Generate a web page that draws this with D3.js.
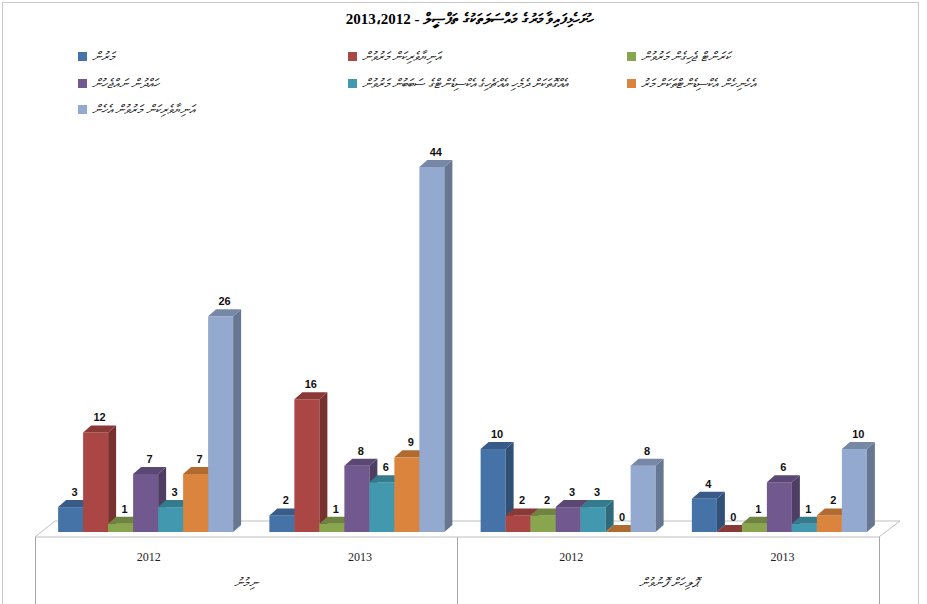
<!DOCTYPE html>
<html>
<head>
<meta charset="utf-8">
<script src="https://cdn.jsdelivr.net/npm/d3@7.9.0/dist/d3.min.js"></script>
<style>
  body { margin: 0; background: #fff; }
  svg { display: block; }
</style>
</head>
<body>
<svg id="chart" width="927" height="604"></svg>
<script>
// chart data
const titleText = 'ހުށަހެޅިފައިވާ މަރުގެ މައްސަލަތަކުގެ ތަފްޞީލް - 2013،2012';
const years = ['2012', '2013', '2012', '2013'];
const groups = ['ނިމުނު', 'ޕޮލިހަށް ފޮނުވުން'];
const seriesNames = [
  'މަރުން',
  'އަނިޔާވެރިކަން މަރުވުން',
  'ކަރަންޓް ޖެހިގެން މަރުވުން',
  'ހައްދުން ނައްޖެހުން',
  'އެއްގޮތަކަށް ދެމެހި އެއްޗެހިގެ އެކްސިޑެންޓްގެ ސަބަބުން މަރުވުން',
  'އެހެނިހެން އެކްސިޑެންޓްތަކަށް މަރު',
  'އަނިޔާވެރިކަން މަރުވުން އެހެން'
];
const blueVals   = [3, 2, 10, 4];
const redVals    = [12, 16, 2, 0];
const greenVals  = [1, 1, 2, 1];
const purpleVals = [7, 8, 3, 6];
const tealVals   = [3, 6, 3, 1];
const orangeVals = [7, 9, 0, 2];
const lightVals  = [26, 44, 8, 10];
const seriesValues = [blueVals, redVals, greenVals, purpleVals, tealVals, orangeVals, lightVals];
const colors = ['#4572A7', '#AA4643', '#89A54E', '#71588F', '#4198AF', '#DB843D', '#93A9CF'];

const svg = d3.select('#chart');

// outer border
svg.append('rect')
  .attr('x', 2.5).attr('y', 2.5).attr('width', 916).attr('height', 610)
  .attr('fill', 'none').attr('stroke', '#c8c8c8');

// title
svg.append('text')
  .attr('x', 470).attr('y', 24)
  .attr('text-anchor', 'middle')
  .attr('direction', 'rtl')
  .style('font-family', "'Liberation Serif', 'DejaVu Serif', serif")
  .attr('font-weight', 'bold')
  .attr('font-size', 15)
  .text(titleText);

// legend, 3 columns
const legendCols = [78, 348, 627];
const legendRows = [57, 84, 110];
seriesNames.forEach((name, i) => {
  const g = svg.append('g')
    .attr('transform', `translate(${legendCols[i % 3]},${legendRows[Math.floor(i / 3)]})`);
  g.append('rect')
    .attr('x', 0).attr('y', -5).attr('width', 9).attr('height', 9)
    .attr('fill', colors[i]);
  g.append('text')
    .attr('x', 14).attr('y', 4)
    .attr('font-size', 13)
    .attr('font-style', 'italic')
    .attr('fill', '#222')
    .text(name);
});

// geometry
const frontY = 537, backY = 521, baseY = 532;
const dx = 8, dy = 7;
const xFront = d3.scaleBand().domain(d3.range(years.length)).range([35, 879]);
const xGroup = d3.scaleBand().domain(d3.range(years.length)).range([40, 885]);
const xBar = d3.scaleBand().domain(d3.range(seriesNames.length))
  .range([0, 175]);
const y = d3.scaleLinear().domain([0, 44]).range([baseY, 167]);

// floor
svg.append('path')
  .attr('d', `M${xFront.range()[0]},${frontY} L${xFront.range()[0] + 20},${backY} L${xFront.range()[1] + 21},${backY} L${xFront.range()[1]},${frontY} Z`)
  .attr('fill', '#fff').attr('stroke', '#bfbfbf');

// bars
const barsG = svg.append('g');
years.forEach((yr, gi) => {
  const gx = xGroup(gi) + (xGroup.bandwidth() - 175) / 2;
  seriesValues.forEach((vals, si) => {
    const v = vals[gi];
    const x0 = gx + xBar(si), w = xBar.bandwidth();
    const yt = y(v);
    const c = d3.color(colors[si]);
    // front
    barsG.append('rect')
      .attr('x', x0).attr('y', yt).attr('width', w).attr('height', baseY - yt)
      .attr('fill', c.formatHex());
    // side
    barsG.append('path')
      .attr('d', `M${x0 + w},${yt} L${x0 + w + dx},${yt - dy} L${x0 + w + dx},${baseY - dy} L${x0 + w},${baseY} Z`)
      .attr('fill', c.darker(1.0).formatHex());
    // top
    barsG.append('path')
      .attr('d', `M${x0},${yt} L${x0 + dx},${yt - dy} L${x0 + w + dx},${yt - dy} L${x0 + w},${yt} Z`)
      .attr('fill', c.darker(0.6).formatHex());
    // value label
    barsG.append('text')
      .attr('x', x0 + w / 2 + dx / 2).attr('y', yt - dy - 4)
      .attr('text-anchor', 'middle')
      .attr('font-family', "'Liberation Sans', Arial, sans-serif")
      .attr('font-weight', 'bold')
      .attr('font-size', 11)
      .attr('fill', '#111')
      .text(v);
  });
});

// category axis box
const axisG = svg.append('g').attr('stroke', '#a6a6a6');
[xFront.range()[0], (xFront.range()[0] + xFront.range()[1]) / 2, xFront.range()[1]].forEach(x => {
  axisG.append('line')
    .attr('x1', x + 0.5).attr('x2', x + 0.5)
    .attr('y1', frontY).attr('y2', 604);
});

years.forEach((yr, gi) => {
  svg.append('text')
    .attr('x', xGroup(gi) + xGroup.bandwidth() / 2 + 3)
    .attr('y', 561)
    .attr('text-anchor', 'middle')
    .attr('font-family', "'Liberation Serif', 'Times New Roman', serif")
    .attr('font-size', 12)
    .attr('fill', '#222')
    .text(yr);
});

groups.forEach((name, i) => {
  const x = (xFront(i * 2) + xFront(i * 2 + 1) + xFront.bandwidth()) / 2;
  svg.append('text')
    .attr('x', x).attr('y', 587)
    .attr('text-anchor', 'middle')
    .attr('font-size', 13)
    .attr('font-style', 'italic')
    .attr('fill', '#222')
    .text(name);
});
</script>
</body>
</html>
